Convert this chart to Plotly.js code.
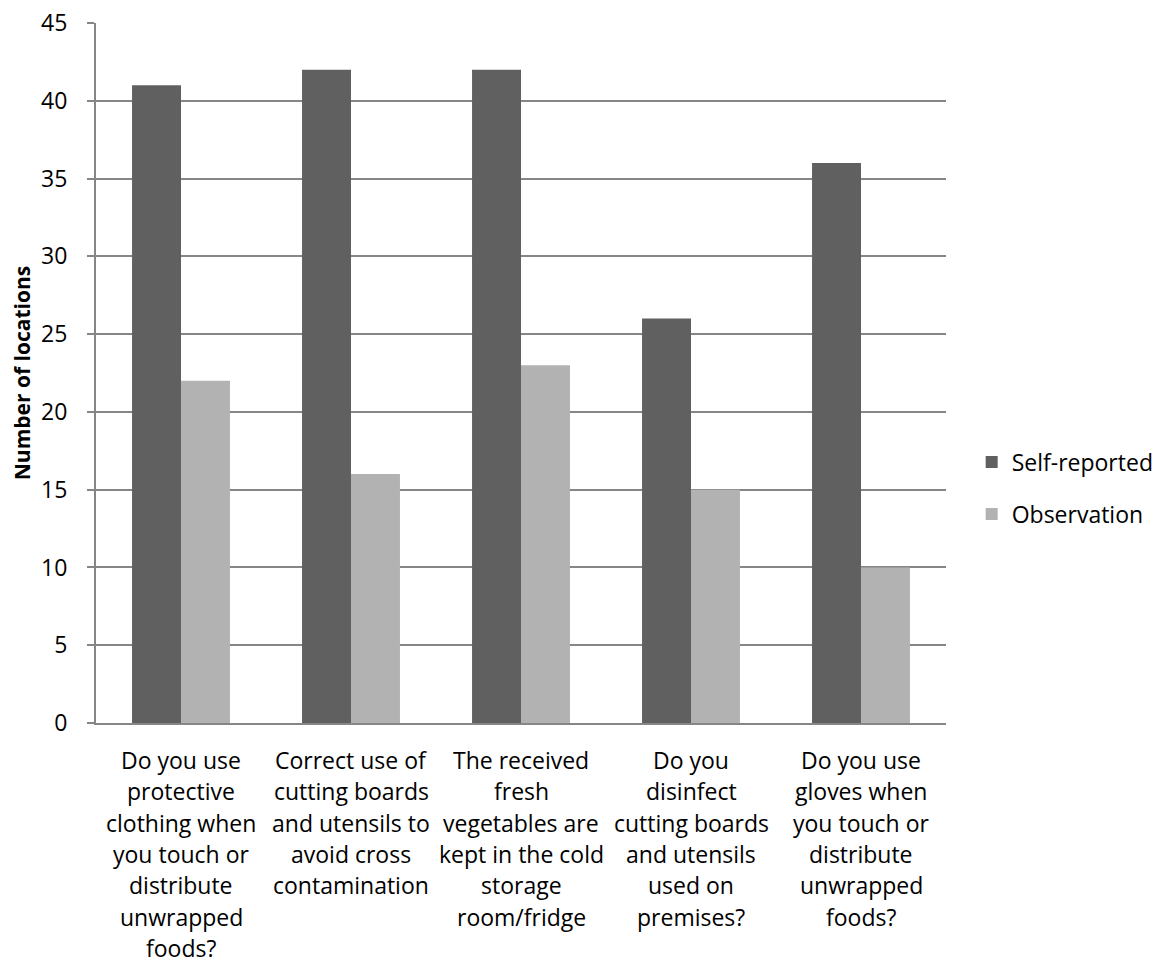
<!DOCTYPE html>
<html>
<head>
<meta charset="utf-8">
<script src="https://cdn.plot.ly/plotly-3.0.1.min.js"></script>
<style>
  html, body { margin: 0; padding: 0; background: #fff; }
  #chart { width: 1154px; height: 962px; }
</style>
</head>
<body>
<div id="chart"></div>
<script>
// Survey questions (one line of the label per array entry)
const categoryLines = [
  ["Do you use", "protective", "clothing when", "you touch or", "distribute", "unwrapped", "foods?"],
  ["Correct use of", "cutting boards", "and utensils to", "avoid cross", "contamination"],
  ["The received", "fresh", "vegetables are", "kept in the cold", "storage", "room/fridge"],
  ["Do you", "disinfect", "cutting boards", "and utensils", "used on", "premises?"],
  ["Do you use", "gloves when", "you touch or", "distribute", "unwrapped", "foods?"]
];
const categories = categoryLines.map(l => l.join(" "));

const selfReported = [41, 42, 42, 26, 36];
const observation  = [22, 16, 23, 15, 10];

const yTicks = [0, 5, 10, 15, 20, 25, 30, 35, 40, 45];

const FONT = "'Open Sans', sans-serif";
const FS = 23;
const LINE_STEP = 31.3;
const AXIS_GREY = "#868686";

const traces = [
  {
    type: "bar", name: "Self-reported", x: categories, y: selfReported,
    marker: { color: "#606060" }, legend: "legend", hoverinfo: "skip"
  },
  {
    type: "bar", name: "Observation", x: categories, y: observation,
    marker: { color: "#b2b2b2" }, legend: "legend2", hoverinfo: "skip"
  }
];

// Category labels written line by line beneath each group
const annotations = [];
categoryLines.forEach((lines, ci) => {
  lines.forEach((line, li) => {
    annotations.push({
      x: categories[ci], xref: "x", y: 0, yref: "paper",
      text: line, showarrow: false, xanchor: "center", yanchor: "middle",
      yshift: -37 - li * LINE_STEP,
      font: { family: FONT, size: FS, color: "#000" }
    });
  });
});

const legendFont = { family: FONT, size: FS, color: "#000" };

const layout = {
  width: 1154, height: 962,
  margin: { l: 96, r: 208, t: 23, b: 239, pad: 0, autoexpand: false },
  paper_bgcolor: "#fff", plot_bgcolor: "#fff",
  barmode: "group", bargap: 0.424, bargroupgap: 0,
  font: { family: FONT, size: FS, color: "#000" },
  xaxis: {
    showticklabels: false, ticks: "", showgrid: false,
    showline: true, linecolor: AXIS_GREY, linewidth: 2,
    zeroline: false, fixedrange: true
  },
  yaxis: {
    range: [0, 45], tickvals: yTicks, ticktext: yTicks.map(String),
    ticks: "outside", ticklen: 7, tickcolor: AXIS_GREY, tickwidth: 2,
    showline: true, linecolor: AXIS_GREY, linewidth: 2,
    showgrid: true, gridcolor: AXIS_GREY, gridwidth: 2,
    zeroline: false, ticklabelstandoff: 15,
    tickfont: { family: FONT, size: FS, color: "#000" },
    title: {
      text: "<b>Number of locations</b>", standoff: 5,
      font: { family: FONT, size: 21, color: "#000" }
    },
    fixedrange: true
  },
  legend: {
    xref: "container", yref: "container",
    x: 0.842, xanchor: "left", y: 1 - 462 / 962, yanchor: "middle",
    font: legendFont, bgcolor: "rgba(0,0,0,0)", itemwidth: 30
  },
  legend2: {
    xref: "container", yref: "container",
    x: 0.842, xanchor: "left", y: 1 - 514 / 962, yanchor: "middle",
    font: legendFont, bgcolor: "rgba(0,0,0,0)", itemwidth: 30
  },
  annotations: annotations,
  showlegend: true
};

Plotly.newPlot("chart", traces, layout, { displayModeBar: false, staticPlot: true });
</script>
</body>
</html>
